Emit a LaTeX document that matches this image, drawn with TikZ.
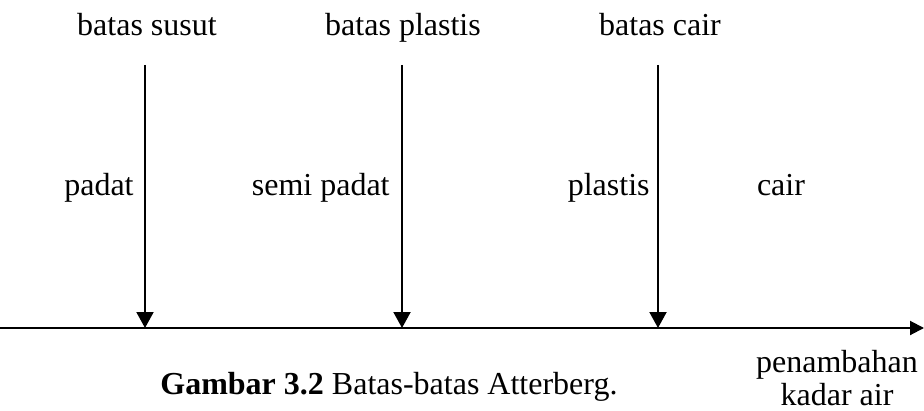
\documentclass[tikz,border=0pt]{standalone}
\usepackage{fontspec}
\setmainfont{Liberation Serif}
\usetikzlibrary{arrows.meta}
\begin{document}
\begin{tikzpicture}[x=0.5pt,y=-0.5pt,
  lbl/.style={inner sep=0pt,font=\fontsize{16}{16.5}\selectfont},
  limarrow/.style={line width=1pt,-{Triangle[width=8.5pt,length=8pt]}},
  axisarrow/.style={line width=1pt,-{Triangle[width=7pt,length=7pt]}}]
\useasboundingbox (0,0) rectangle (924,411);
% axis
\coordinate (a0) at (0,328);
\coordinate (a1) at (924,328);
\draw[axisarrow] (a0) -- (a1);
% limits
\coordinate (s0) at (145,65); \coordinate (s1) at (145,328);
\coordinate (p0) at (402,65); \coordinate (p1) at (402,328);
\coordinate (c0) at (658,65); \coordinate (c1) at (658,328);
\draw[limarrow] (s0) -- (s1);
\draw[limarrow] (p0) -- (p1);
\draw[limarrow] (c0) -- (c1);
% top labels
\node[lbl,anchor=base] (ts) at (147,36) {batas susut};
\node[lbl,anchor=base] (tp) at (403,36) {batas plastis};
\node[lbl,anchor=base] (tc) at (660,36) {batas cair};
% region labels
\node[lbl,anchor=base east] (r1) at (134,195) {padat};
\node[lbl,anchor=base east] (r2) at (390,195) {semi padat};
\node[lbl,anchor=base east] (r3) at (650,195) {plastis};
\node[lbl,anchor=base] (r4) at (781,195) {cair};
% caption
\node[lbl,anchor=base west] (cap) at (160,394) {\textbf{Gambar 3.2} Batas-batas Atterberg.};
\node[lbl,align=center] (pk) at (837,378) {penambahan\\kadar air};
\end{tikzpicture}
\end{document}
